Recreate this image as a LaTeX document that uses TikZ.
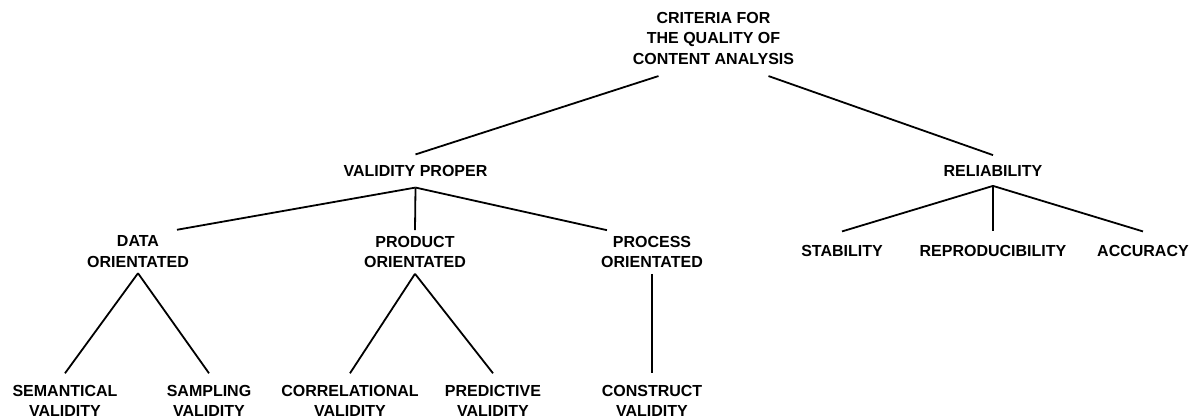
\documentclass[tikz,border=0pt]{standalone}
\usepackage{fontspec}
\setmainfont{Liberation Sans}
\usetikzlibrary{positioning}

\begin{document}
\begin{tikzpicture}[x=1pt,y=-1pt,line width=1.8pt,
  every node/.style={font=\fontsize{16}{20.5}\selectfont\bfseries, align=center, inner xsep=2pt},
  branch/.style={inner ysep=5pt},
  leaf/.style={inner ysep=11pt}]
  \useasboundingbox (0,0) rectangle (1195,419);

  % Top of the tree
  \node (root) [inner ysep=11pt] at (713.5,38) {CRITERIA FOR\\THE QUALITY OF\\CONTENT ANALYSIS};
  \node (vp)   [inner ysep=10pt] at (415.5,171) {VALIDITY PROPER};
  \node (rel)  [inner ysep=9pt]  at (993,170.5) {RELIABILITY};

  % Kinds of validity
  \node (data) [branch] at (138,251.5) {DATA\\ORIENTATED};
  \node (prod) [branch] at (415,252) {PRODUCT\\ORIENTATED};
  \node (proc) [branch] at (652,252) {PROCESS\\ORIENTATED};

  % Kinds of reliability
  \node (stab)  [inner ysep=13pt] at (842,251) {STABILITY};
  \node (repro) [inner ysep=13pt] at (993,251) {REPRODUCIBILITY};
  \node (acc)   [inner ysep=13pt] at (1143,251) {ACCURACY};

  % Bottom row
  \node (sem)  [leaf] at (65,401)  {SEMANTICAL\\VALIDITY};
  \node (samp) [leaf] at (209,401) {SAMPLING\\VALIDITY};
  \node (corr) [leaf] at (350,401) {CORRELATIONAL\\VALIDITY};
  \node (pred) [leaf] at (493,401) {PREDICTIVE\\VALIDITY};
  \node (cons) [leaf] at (652,401) {CONSTRUCT\\VALIDITY};

  % Branches
  \draw ([xshift=-55pt]root.south) -- (vp.north);
  \draw ([xshift=55pt]root.south) -- (rel.north);
  \draw (vp.south) -- ([xshift=39pt]data.north);
  \draw (vp.south) -- (prod.north);
  \draw (vp.south) -- ([xshift=-45pt]proc.north);
  \draw (rel.south) -- (stab.north);
  \draw (rel.south) -- (repro.north);
  \draw (rel.south) -- (acc.north);
  \draw (data.south) -- (sem.north);
  \draw (data.south) -- (samp.north);
  \draw (prod.south) -- (corr.north);
  \draw (prod.south) -- (pred.north);
  \draw (proc.south) -- (cons.north);
\end{tikzpicture}
\end{document}
